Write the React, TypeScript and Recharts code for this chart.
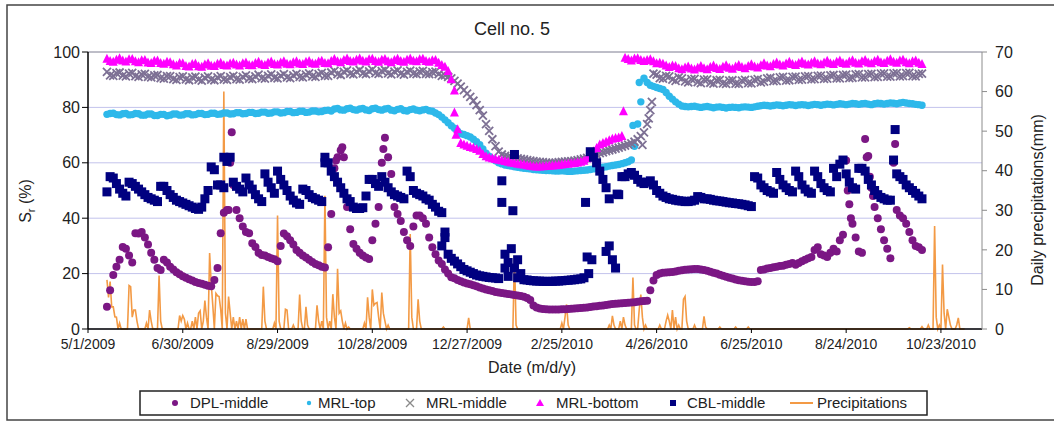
import React from 'react';
import { ComposedChart, Scatter, Line, XAxis, YAxis, CartesianGrid, ReferenceLine } from 'recharts';

// sensor readings, one every 2 days starting day 12 (day 0 = 5/1/2009)
const FIRST_DAY = 12;
const STEP = 2;

const dplMiddle = [
  8.0, 14.0, 19.5, 22.5, 25.0, 29.6, 29.0, 26.5, 24.0, 34.6, 34.5, 35.0, 33.0, 30.5, 27.5, 25.0, 22.0, 21.3, 25.0, 24.0,
  22.5, 21.5, 20.5, 19.8, 19.0, 18.5, 18.0, 17.5, 17.0, 16.6, 16.3, 16.0, 15.6, 15.4, 17.7, 22.0, 34.6, 42.0, 43.0, 60.0,
  52.0, 43.0, 40.0, 37.0, 35.0, 34.6, 31.0, 29.6, 27.5, 26.7, 26.5, 26.0, 25.5, 25.2, 24.5, 30.0, 34.5, 33.5, 32.0, 30.5,
  28.5, 27.5, 26.5, 25.8, 25.0, 24.2, 23.5, 23.0, 22.5, 22.2, 29.5, 41.5, 58.0, 62.0, 64.5, 62.0, 44.0, 36.0, 30.7, 29.0,
  27.5, 26.5, 25.8, 25.3, 32.0, 38.0, 44.0, 60.0, 69.0, 62.0, 56.0, 44.0, 41.5, 39.0, 35.0, 32.0, 30.0, 37.0, 41.0, 41.0,
  40.0, 38.0, 33.0, 29.5, 27.0, 24.7, 23.5, 21.5, 20.0, 18.7, 18.3, 17.7, 17.2, 16.8, 16.4, 16.2, 15.8, 15.4, 15.0, 14.6,
  14.3, 14.0, 13.7, 13.4, 13.2, 13.0, 12.8, 12.6, 12.5, 12.3, 12.1, 11.9, 11.6, 11.2, 10.5, 8.5, 7.8, 7.4, 7.2, 7.1,
  7.0, 7.0, 7.0, 7.0, 7.1, 7.1, 7.2, 7.3, 7.4, 7.5, 7.6, 7.7, 7.8, 7.9, 8.1, 8.2, 8.4, 8.5, 8.7, 8.8,
  9.0, 9.1, 9.2, 9.3, 9.4, 9.5, 9.6, 9.7, 9.8, 10.0, 10.1, 10.2, 14.0, 17.5, 19.5, 20.0, 20.3, 20.4, 20.5, 20.6,
  20.8, 21.0, 21.2, 21.4, 21.5, 21.6, 21.7, 21.7, 21.5, 21.3, 21.0, 20.7, 20.3, 20.0, 19.6, 19.2, 18.9, 18.5, 18.2, 17.9,
  17.6, 17.4, 17.2, 17.1, 17.0, 17.0, 17.2, 21.3, 21.5, 21.8, 22.0, 22.3, 22.5, 22.7, 22.8, 23.2, 23.5, 23.8, 23.2, 23.8,
  24.5, 25.0, 25.5, 26.0, 28.5, 29.5, 27.0, 26.5, 26.0, 27.5, 29.0, 28.0, 32.0, 34.0, 60.8, 45.0, 38.0, 33.0, 28.0, 27.5,
  68.6, 62.5, 51.0, 44.0, 40.0, 36.0, 32.0, 29.0, 25.5, 60.0, 43.0, 41.0, 40.0, 38.0, 35.0, 32.0, 30.0, 29.5, 28.5,
];

const mrlTop = [
  77.5, 77.8, 77.9, 77.4, 77.3, 77.7, 77.8, 77.3, 77.4, 77.8, 77.7, 77.2, 77.2, 77.6, 77.6, 77.1, 77.1, 77.5, 77.5, 77.0,
  77.2, 77.6, 77.6, 77.2, 77.3, 77.7, 77.7, 77.3, 77.4, 77.8, 77.8, 77.4, 77.5, 77.9, 77.9, 77.5, 77.6, 78.0, 78.0, 77.6,
  77.7, 78.1, 78.1, 77.7, 77.8, 78.2, 78.2, 77.8, 77.9, 78.3, 78.3, 77.9, 78.0, 78.4, 78.4, 78.0, 78.1, 78.5, 78.5, 78.1,
  78.2, 78.6, 78.6, 78.2, 78.3, 78.7, 78.7, 78.4, 78.5, 78.9, 79.0, 78.7, 79.4, 79.6, 79.1, 79.0, 79.5, 79.7, 79.2, 79.0,
  79.4, 79.6, 79.1, 78.9, 79.5, 79.7, 79.2, 79.0, 79.4, 79.6, 79.0, 78.8, 79.3, 79.5, 78.9, 78.7, 79.2, 79.4, 79.0, 78.8,
  79.1, 79.3, 78.8, 78.6, 78.0, 77.4, 76.5, 75.5, 74.5, 73.4, 72.5, 71.4, 70.5, 70.2, 69.8, 69.3, 68.5, 67.6, 66.5, 65.0,
  63.5, 62.4, 61.5, 60.7, 60.0, 59.6, 59.2, 59.0, 58.8, 58.6, 58.4, 58.2, 58.0, 57.9, 57.8, 57.6, 57.5, 57.4, 57.3, 57.2,
  57.2, 57.1, 57.0, 57.0, 57.1, 57.0, 56.9, 56.9, 57.0, 57.1, 57.2, 57.3, 57.4, 57.6, 57.8, 58.0, 58.2, 58.4, 58.6, 58.8,
  59.0, 59.2, 59.4, 59.7, 60.0, 60.4, 61.0, 66.0, 74.0, 82.0, 90.5, 89.0, 88.0, 87.6, 87.2, 86.8, 86.5, 85.4, 84.0, 83.0,
  82.0, 81.2, 80.5, 80.3, 80.2, 80.3, 80.4, 80.2, 80.0, 80.2, 80.3, 80.1, 79.9, 80.1, 80.2, 80.0, 79.8, 80.0, 80.1, 80.0,
  79.9, 80.1, 80.2, 80.1, 80.0, 80.2, 80.4, 80.6, 80.8, 80.7, 80.5, 80.7, 80.9, 80.8, 80.6, 80.8, 81.0, 80.9, 80.7, 80.9,
  81.0, 80.9, 80.7, 80.9, 81.1, 81.0, 80.8, 81.0, 81.2, 81.1, 80.9, 81.1, 81.3, 81.2, 81.0, 81.2, 81.4, 81.3, 81.1, 81.3,
  81.4, 81.2, 81.0, 81.3, 81.5, 81.4, 81.2, 81.4, 81.6, 81.5, 81.3, 81.6, 81.8, 81.6, 81.4, 81.3, 81.1, 81.0, 80.8,
];

const mrlMiddle = [
  92.8, 91.6, 91.4, 92.4, 92.6, 91.5, 91.2, 92.2, 92.5, 91.3, 91.0, 91.9, 92.1, 91.0, 90.8, 91.6, 91.7, 90.6, 90.4, 91.3,
  91.3, 90.2, 89.9, 90.9, 91.2, 90.1, 89.8, 90.8, 91.1, 90.0, 89.7, 90.7, 91.2, 90.0, 89.8, 90.8, 91.3, 90.1, 89.9, 90.9,
  91.4, 90.2, 90.0, 91.0, 91.6, 90.4, 90.2, 91.2, 91.8, 90.6, 90.4, 91.4, 91.9, 90.7, 90.5, 91.5, 92.0, 90.8, 90.6, 91.6,
  92.1, 91.0, 90.8, 91.8, 92.3, 91.2, 91.0, 92.0, 92.5, 91.4, 91.4, 92.6, 93.2, 92.0, 91.7, 92.8, 93.4, 92.2, 91.9, 92.9,
  93.5, 92.3, 92.0, 93.0, 93.6, 92.4, 92.1, 93.1, 93.5, 92.3, 91.9, 92.9, 93.4, 92.2, 91.8, 92.8, 93.3, 92.2, 92.0, 92.9,
  93.2, 92.1, 92.0, 92.7, 92.9, 92.0, 91.4, 91.6, 91.0, 90.5, 89.6, 88.6, 87.5, 86.2, 85.0, 83.8, 82.4, 80.8, 79.0, 77.0,
  74.0, 71.5, 68.5, 66.0, 64.0, 63.0, 62.5, 62.2, 62.0, 61.8, 61.6, 61.4, 61.2, 61.0, 60.8, 60.6, 60.4, 60.3, 60.2, 60.1,
  60.0, 60.0, 60.1, 60.2, 60.3, 60.4, 60.5, 60.6, 60.8, 61.0, 61.2, 61.5, 61.8, 62.1, 62.5, 63.0, 63.5, 63.8, 64.2, 64.5,
  64.8, 65.1, 65.5, 65.8, 66.2, 66.6, 67.0, 67.6, 68.5, 69.6, 71.0, 74.0, 79.0, 92.2, 91.8, 90.6, 90.4, 91.4, 91.2, 90.0,
  89.6, 90.8, 90.5, 89.4, 89.0, 90.2, 90.3, 89.1, 88.8, 90.0, 90.1, 88.9, 88.6, 89.8, 89.9, 88.7, 88.5, 89.7, 89.8, 88.6,
  88.5, 89.7, 89.9, 88.8, 88.7, 89.9, 90.2, 89.0, 89.3, 90.5, 90.7, 89.5, 89.6, 90.8, 91.0, 89.7, 89.8, 91.0, 91.1, 89.9,
  90.0, 91.2, 91.3, 90.1, 90.2, 91.4, 91.5, 90.3, 90.4, 91.6, 91.7, 90.5, 90.5, 91.7, 91.8, 90.6, 90.7, 91.9, 92.0, 90.8,
  90.8, 92.0, 92.1, 90.9, 91.0, 92.2, 92.3, 91.1, 91.1, 92.3, 92.4, 91.2, 91.3, 92.4, 92.5, 91.3, 91.2, 92.1, 92.2,
];

const mrlBottom = [
  97.4, 96.6, 96.3, 97.1, 97.6, 96.8, 96.4, 97.2, 97.3, 96.5, 96.2, 96.9, 97.0, 96.1, 95.9, 96.7, 96.8, 95.9, 95.6, 96.3,
  96.2, 95.4, 95.0, 95.9, 95.8, 94.8, 94.6, 95.5, 95.7, 94.7, 94.5, 95.3, 95.8, 94.9, 94.8, 95.6, 96.0, 95.2, 95.0, 95.7,
  96.0, 95.3, 95.0, 95.8, 96.1, 95.2, 95.1, 95.9, 96.3, 95.4, 95.2, 96.0, 96.4, 95.5, 95.3, 96.1, 96.5, 95.6, 95.4, 96.2,
  96.5, 95.7, 95.5, 96.3, 96.6, 95.8, 95.6, 96.4, 96.7, 95.9, 95.8, 96.6, 97.3, 96.5, 96.2, 97.0, 97.5, 96.6, 96.4, 97.1,
  97.5, 96.7, 96.4, 97.2, 97.4, 96.6, 96.3, 97.1, 97.3, 96.5, 96.2, 97.0, 97.4, 96.6, 96.3, 97.1, 97.5, 96.7, 96.5, 97.2,
  97.4, 96.6, 96.3, 96.9, 97.0, 96.0, 95.2, 94.5, 93.0, 90.0, 86.0, 72.0, 67.0, 66.5, 66.0, 65.6, 65.3, 64.8, 64.2, 63.0,
  62.2, 61.8, 61.5, 61.2, 61.0, 60.8, 60.5, 60.2, 60.0, 59.8, 59.5, 59.3, 59.2, 59.0, 58.8, 58.6, 58.5, 58.5, 58.6, 58.7,
  58.8, 58.9, 59.0, 59.1, 59.2, 59.4, 59.5, 59.7, 59.8, 60.0, 60.2, 60.6, 61.5, 62.8, 64.0, 65.2, 66.5, 67.0, 67.5, 68.0,
  68.5, 68.8, 69.0, 69.5, 97.8, 97.3, 96.8, 97.5, 97.6, 97.0, 96.6, 97.0, 97.2, 96.5, 95.8, 96.0, 95.6, 95.0, 94.4, 95.0,
  94.8, 94.0, 93.6, 94.3, 94.6, 93.9, 93.5, 94.2, 94.8, 94.0, 93.6, 94.4, 95.0, 94.1, 93.7, 94.5, 95.1, 94.2, 93.8, 94.6,
  95.2, 94.4, 94.0, 94.8, 95.4, 94.6, 94.3, 95.1, 95.8, 95.0, 94.7, 95.5, 96.1, 95.3, 95.0, 95.7, 96.3, 95.5, 95.2, 95.9,
  96.4, 95.6, 95.3, 96.0, 96.5, 95.7, 95.4, 96.1, 96.7, 95.8, 95.5, 96.3, 96.8, 95.9, 95.6, 96.4, 96.9, 96.0, 95.7, 96.5,
  97.0, 96.1, 95.8, 96.6, 97.1, 96.2, 95.9, 96.7, 97.2, 96.3, 96.0, 96.8, 97.1, 96.2, 95.8, 96.5, 96.8, 96.0, 95.5,
];

const cblMiddle = [
  49.5, 55.0, 54.5, 52.5, 50.5, 49.0, 48.0, 53.0, 52.5, 51.5, 50.5, 49.5, 48.5, 47.5, 47.0, 46.5, 46.0, 51.5, 51.5, 50.0,
  48.5, 47.5, 46.5, 46.0, 45.5, 45.0, 44.5, 44.0, 43.5, 43.2, 44.0, 47.0, 50.0, 58.5, 57.5, 52.0, 52.0, 51.0, 60.5, 62.0,
  53.0, 51.5, 50.5, 49.5, 54.5, 52.0, 50.5, 48.5, 47.0, 46.0, 56.0, 53.0, 51.0, 49.0, 57.0, 54.0, 52.0, 50.0, 48.0, 46.5,
  45.5, 45.0, 50.5, 50.0, 48.5, 47.5, 47.0, 46.5, 46.0, 62.0, 60.0, 57.0, 55.0, 53.0, 51.0, 49.0, 47.0, 46.0, 44.0, 43.5,
  43.5, 43.8, 48.0, 54.0, 54.0, 52.5, 51.5, 55.0, 53.0, 51.0, 49.5, 48.5, 48.0, 47.5, 47.0, 57.0, 55.0, 50.0, 49.0, 48.5,
  48.0, 47.0, 46.5, 45.0, 44.0, 42.5, 42.0, 35.0, 27.0, 25.5, 24.5, 23.5, 22.5, 21.5, 21.0, 20.5, 20.0, 19.5, 19.2, 19.0,
  18.8, 18.6, 18.5, 18.4, 18.2, 53.5, 27.0, 24.0, 29.0, 22.0, 25.0, 20.0, 17.8, 17.7, 17.5, 17.4, 17.3, 17.3, 17.2, 17.2,
  17.2, 17.2, 17.3, 17.3, 17.4, 17.5, 17.6, 17.7, 17.8, 18.0, 18.1, 18.5, 26.0, 64.0, 62.0, 60.0, 57.0, 54.0, 51.0, 30.0,
  25.0, 22.0, 48.5, 55.0, 55.0, 56.0, 56.5, 55.5, 54.0, 53.0, 52.5, 53.0, 53.5, 52.0, 50.0, 49.0, 48.0, 47.5, 47.0, 46.8,
  46.5, 46.3, 46.2, 46.0, 46.0, 46.2, 46.5, 47.8, 47.5, 47.0, 47.0, 46.8, 46.5, 46.3, 46.2, 46.0, 45.8, 45.6, 45.5, 45.3,
  45.2, 45.0, 44.8, 44.5, 44.2, 55.0, 54.5, 52.0, 51.0, 50.0, 49.5, 49.0, 56.5, 54.0, 52.0, 51.0, 50.0, 49.5, 57.0, 55.0,
  52.0, 50.5, 49.5, 49.0, 57.0, 55.0, 52.5, 51.0, 50.0, 49.5, 58.0, 55.0, 59.5, 61.0, 56.0, 53.0, 51.0, 50.5, 58.0, 58.0,
  57.0, 54.0, 52.0, 50.0, 48.5, 47.5, 47.0, 46.5, 46.5, 61.0, 56.0, 55.0, 54.0, 52.0, 51.0, 50.0, 49.0, 48.0, 47.0,
];

// readings that fall between the regular samples: [day, value]
const dplExtra: [number, number][] = [
  [89, 43], [91, 71], [157, 60.8], [161, 65.6], [187, 65], [481, 50], [483, 40], [493, 62],
  [495, 55], [497, 48], [511, 66.8],
];
const mrlTopExtra: [number, number][] = [[345, 73.5], [349, 89]];
const mrlMiddleExtra: [number, number][] = [[351, 66.5], [355, 76], [357, 82]];
const mrlBottomExtra: [number, number][] = [[232, 78], [233, 70], [339, 78.5]];
const cblExtra: [number, number][] = [
  [86, 62], [150, 60], [224, 30], [226, 33], [262, 45.7], [264, 22], [266, 19], [269, 42.7],
  [270, 63], [272, 18.5], [315, 45.7], [317, 20], [319, 25], [328, 28], [330, 47], [335, 48.7],
  [511, 72],
];

// daily precipitation (mm), days not listed had none
const PRECIP_FIRST = 12;
const PRECIP_LAST = 555;
const rainDays: [number, number][] = [
  [12, 12.4], [13, 8], [14, 12], [15, 5.6], [16, 5.6], [17, 3.1], [18, 3], [20, 1.5],
  [26, 11], [27, 10.7], [28, 3], [29, 4.8], [30, 4.8], [31, 2], [37, 1.5], [39, 4.8], [40, 2],
  [45, 13.5], [46, 2], [58, 3.4], [59, 2], [60, 3.4], [61, 2.5], [63, 1.5], [66, 2], [68, 3],
  [70, 4], [71, 4.6], [73, 2], [74, 7.2], [75, 3], [77, 19.2], [78, 11.5], [79, 6], [81, 9],
  [82, 8.4], [83, 8.2], [84, 5], [86, 60], [87, 4], [89, 8.2], [90, 4], [92, 3], [94, 2],
  [96, 3], [98, 2.5], [100, 2.5], [111, 10.7], [112, 2], [118, 1.5], [120, 28.7], [121, 2],
  [125, 5], [126, 4.8], [130, 1], [134, 8.7], [135, 2], [138, 5.6], [139, 1], [145, 6],
  [146, 2], [148, 2], [150, 33.7], [151, 3], [153, 2], [155, 8.8], [156, 3], [158, 15.2],
  [159, 4], [160, 4.6], [161, 2], [163, 1.5], [165, 0.5], [175, 1.5], [177, 8], [178, 3],
  [180, 10], [181, 6], [182, 6.5], [183, 6.7], [184, 3], [186, 9.2], [187, 4], [188, 2],
  [190, 1], [204, 24], [205, 3], [209, 7.5], [210, 2], [225, 0.5], [241, 2.8], [270, 18.4],
  [271, 1], [300, 1.5], [302, 3], [303, 6.2], [304, 1], [330, 1], [332, 3.3], [333, 1],
  [337, 2], [339, 3], [340, 1], [345, 13], [346, 1], [349, 5], [350, 8.7], [351, 3],
  [353, 1], [362, 1], [366, 2], [367, 3.5], [368, 2], [370, 4.8], [372, 3], [374, 1],
  [377, 7.5], [378, 8.2], [379, 2], [384, 1], [390, 3.2], [391, 0.5], [400, 0.5], [410, 0.5],
  [418, 0.5], [520, 0.3], [528, 0.6], [532, 1], [536, 26], [537, 3], [539, 1], [541, 16.3],
  [542, 4], [544, 5], [545, 3], [546, 1], [550, 1], [551, 2.8],
];

const dayTicks = [0, 60, 120, 180, 240, 300, 360, 420, 480, 540];
const srTicks = [0, 20, 40, 60, 80, 100];
const rainTicks = [0, 10, 20, 30, 40, 50, 60, 70];

const toPoints = (vals: number[], extra: [number, number][]) =>
  vals
    .map((v, i) => ({ day: FIRST_DAY + i * STEP, v }))
    .concat(extra.map(([day, v]) => ({ day, v })));

const rainMap = new Map(rainDays);
const precipData: { day: number; mm: number }[] = [];
for (let d = PRECIP_FIRST; d <= PRECIP_LAST; d++) precipData.push({ day: d, mm: rainMap.get(d) ?? 0 });

const fmtDate = (d: number) => {
  const t = new Date(Date.UTC(2009, 4, 1) + d * 86400000);
  return `${t.getUTCMonth() + 1}/${t.getUTCDate()}/${t.getUTCFullYear()}`;
};

const C_DPL = '#7b1784';
const C_TOP = '#2db8ea';
const C_MID = '#7d7094';
const C_BOT = '#ff00ff';
const C_CBL = '#000080';
const C_RAIN = '#f39a45';

const dot = (color: string, r: number) => (p: any) => <circle cx={p.cx} cy={p.cy} r={r} fill={color} />;
const square = (color: string, s: number) => (p: any) => (
  <rect x={p.cx - s / 2} y={p.cy - s / 2} width={s} height={s} fill={color} />
);
const tri = (color: string, s: number) => (p: any) => (
  <path d={`M${p.cx},${p.cy - s * 0.6}L${p.cx + s / 2},${p.cy + s * 0.4}L${p.cx - s / 2},${p.cy + s * 0.4}Z`} fill={color} />
);
const cross = (color: string, s: number) => (p: any) => (
  <path
    d={`M${p.cx - s / 2},${p.cy - s / 2}L${p.cx + s / 2},${p.cy + s / 2}M${p.cx - s / 2},${p.cy + s / 2}L${p.cx + s / 2},${p.cy - s / 2}`}
    stroke={color}
    strokeWidth={1.8}
    fill="none"
  />
);

function Legend() {
  const y = 403;
  return (
    <g fontSize={15} fill="#222">
      <rect x={140} y={391} width={787} height={24} fill="#fff" stroke="#222" strokeWidth={1.5} />
      <circle cx={175} cy={y} r={3} fill={C_DPL} />
      <text x={190} y={y + 5}>DPL-middle</text>
      <circle cx={309} cy={y} r={2.2} fill={C_TOP} />
      <text x={318} y={y + 5}>MRL-top</text>
      <path d={`M406,${y - 4}L414,${y + 4}M406,${y + 4}L414,${y - 4}`} stroke="#8a8a8a" strokeWidth={1.3} />
      <text x={426} y={y + 5}>MRL-middle</text>
      <path d={`M540,${y - 4}L544,${y + 3}L536,${y + 3}Z`} fill={C_BOT} />
      <text x={556} y={y + 5}>MRL-bottom</text>
      <rect x={670} y={y - 3} width={6} height={6} fill={C_CBL} />
      <text x={687} y={y + 5}>CBL-middle</text>
      <line x1={790} y1={y} x2={813} y2={y} stroke={C_RAIN} strokeWidth={2} />
      <text x={817} y={y + 5}>Precipitations</text>
    </g>
  );
}

export default function App() {
  return (
    <div style={{ position: 'fixed', left: 0, top: 0, width: 1054, height: 422, background: '#fff', fontFamily: '"Liberation Sans", Arial, sans-serif' }}>
      <svg width={1054} height={422} style={{ position: 'absolute', left: 0, top: 0 }}>
        <rect x={7} y={5} width={1080} height={415} fill="#fff" stroke="#444" strokeWidth={1.5} />
      </svg>
      <div style={{ position: 'absolute', left: 0, top: 0 }}>
        <ComposedChart width={1054} height={422} margin={{ top: 52, right: 22, bottom: 63, left: 38 }}>
          <CartesianGrid yAxisId="left" vertical={false} stroke="#c3c3ec" />
          <XAxis
            type="number"
            dataKey="day"
            domain={[0, 566]}
            ticks={dayTicks}
            tickFormatter={fmtDate}
            height={30}
            tick={{ fontSize: 14, fill: '#222' }}
            tickSize={4}
            tickMargin={6}
            axisLine={{ stroke: '#000', strokeWidth: 1.5 }}
            tickLine={{ stroke: '#000' }}
            allowDataOverflow
          />
          <YAxis
            yAxisId="left"
            domain={[0, 100]}
            ticks={srTicks}
            width={50}
            tick={{ fontSize: 16, fill: '#222' }}
            tickSize={6}
            tickMargin={2}
            axisLine={{ stroke: '#000', strokeWidth: 1.5 }}
            tickLine={{ stroke: '#000' }}
          />
          <YAxis
            yAxisId="right"
            orientation="right"
            domain={[0, 70]}
            ticks={rainTicks}
            width={50}
            tick={{ fontSize: 16, fill: '#222' }}
            tickSize={5}
            tickMargin={8}
            axisLine={{ stroke: '#8c8c8c' }}
            tickLine={{ stroke: '#8c8c8c' }}
          />
          <ReferenceLine yAxisId="left" y={100} stroke="#9a9a9a" />
          <Scatter yAxisId="left" name="DPL-middle" data={toPoints(dplMiddle, dplExtra)} dataKey="v" shape={dot(C_DPL, 4)} isAnimationActive={false} />
          <Scatter yAxisId="left" name="MRL-top" data={toPoints(mrlTop, mrlTopExtra)} dataKey="v" shape={dot(C_TOP, 3.7)} isAnimationActive={false} />
          <Scatter yAxisId="left" name="MRL-middle" data={toPoints(mrlMiddle, mrlMiddleExtra)} dataKey="v" shape={cross(C_MID, 8)} isAnimationActive={false} />
          <Scatter yAxisId="left" name="MRL-bottom" data={toPoints(mrlBottom, mrlBottomExtra)} dataKey="v" shape={tri(C_BOT, 9)} isAnimationActive={false} />
          <Scatter yAxisId="left" name="CBL-middle" data={toPoints(cblMiddle, cblExtra)} dataKey="v" shape={square(C_CBL, 9)} isAnimationActive={false} />
          <Line yAxisId="right" name="Precipitations" data={precipData} dataKey="mm" type="linear" stroke={C_RAIN} strokeWidth={1.6} dot={false} isAnimationActive={false} />
        </ComposedChart>
      </div>
      <svg width={1054} height={422} style={{ position: 'absolute', left: 0, top: 0, pointerEvents: 'none' }}>
        <text x={512} y={35} textAnchor="middle" fontSize={18} fill="#222">Cell no. 5</text>
        <text x={532} y={373} textAnchor="middle" fontSize={16} fill="#222">Date (m/d/y)</text>
        <text x={31} y={201} textAnchor="middle" fontSize={16} fill="#222" transform="rotate(-90 31 201)">
          S<tspan fontSize={11} dy={4}>r</tspan>
          <tspan dy={-4}> (%)</tspan>
        </text>
        <text x={1043} y={200} textAnchor="middle" fontSize={16} fill="#222" transform="rotate(-90 1043 200)">
          Daily precipitations(mm)
        </text>
        <Legend />
      </svg>
    </div>
  );
}
